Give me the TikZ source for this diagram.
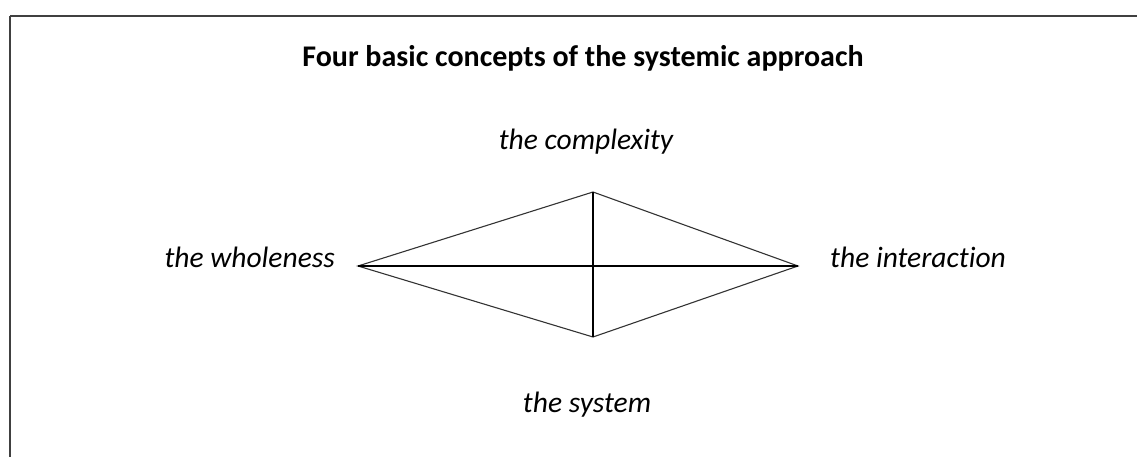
\documentclass[tikz,border=0pt]{standalone}
\usepackage{fontspec}
\setmainfont{Carlito}[RawFeature={-liga}]
\begin{document}
\begin{tikzpicture}[x=1pt,y=-1pt,
  borderline/.style={line width=1.6pt,draw=black!75},
  edge/.style={line width=1.1pt,draw=black!80},
  cross/.style={line width=1.1pt,draw=black},
  lbl/.style={inner sep=0pt,font=\fontsize{29.5}{35}\selectfont\itshape},
  ttl/.style={inner sep=0pt,font=\fontsize{30}{36}\selectfont\bfseries}]
\useasboundingbox (0,0) rectangle (1137,457);
\coordinate (f1) at (10,457);
\coordinate (f2) at (10,16);
\coordinate (f3) at (1137,16);
\draw[borderline] (f2) -- (f1);
\draw[borderline] (f2) -- (f3);
\node[ttl,anchor=base] (title) at (583,67) {Four basic concepts of the systemic approach};
\coordinate (L) at (358,266);
\coordinate (T) at (593,192);
\coordinate (R) at (798,266);
\coordinate (B) at (593,337);
\draw[edge] (L) -- (T) -- (R) -- (B) -- cycle;
\draw[cross] (L) -- (R);
\draw[cross] (T) -- (B);
\node[lbl,anchor=base] (cx) at (586,150) {the complexity};
\node[lbl,anchor=base east] (wh) at (335,267) {the wholeness};
\node[lbl,anchor=base west] (in) at (830,267) {the interaction};
\node[lbl,anchor=base] (sy) at (587,412) {the system};
\end{tikzpicture}
\end{document}
